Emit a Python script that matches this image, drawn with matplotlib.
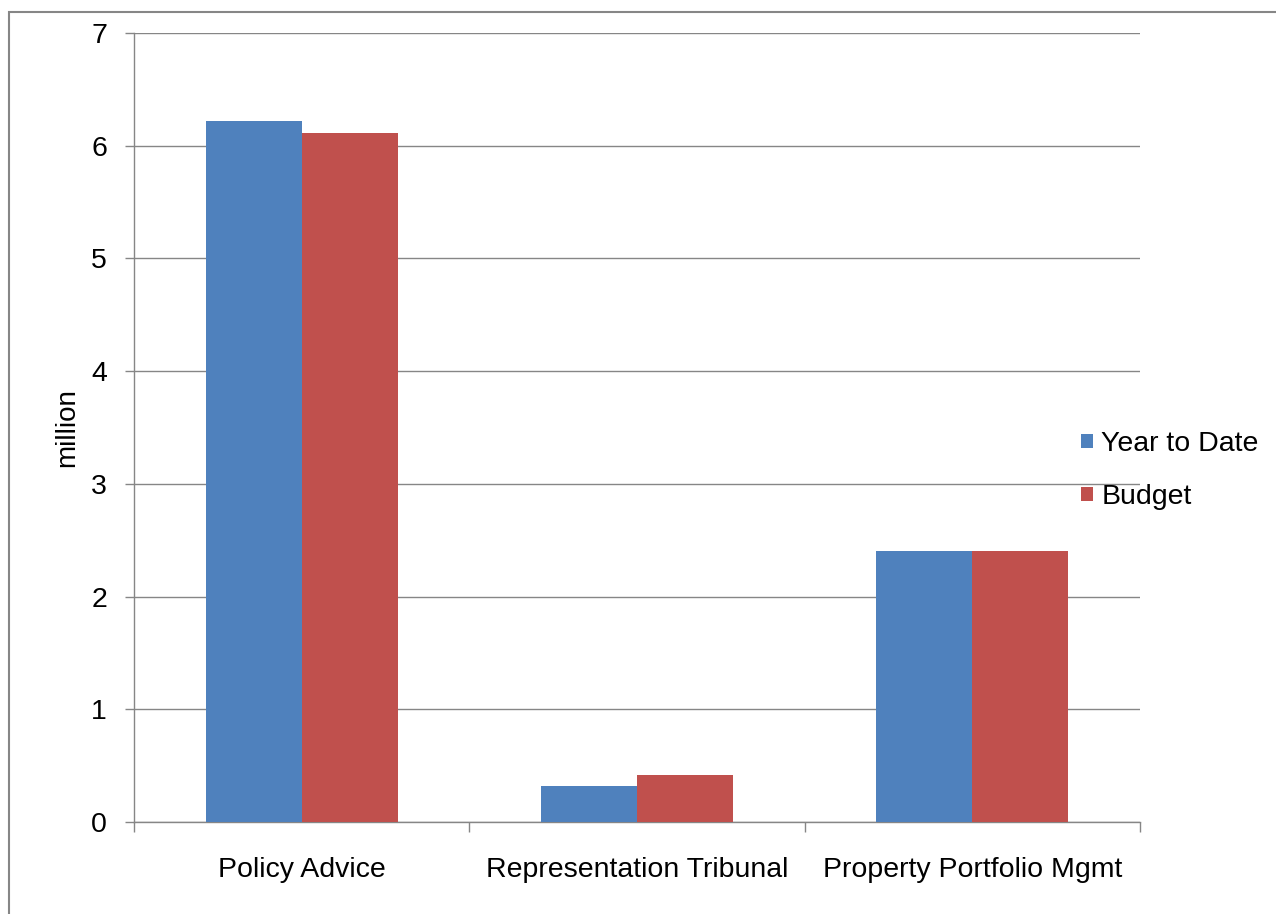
import matplotlib.pyplot as plt
import numpy as np
from matplotlib.patches import Rectangle

categories = ['Policy Advice', 'Representation Tribunal', 'Property Portfolio Mgmt']
year_to_date = [6.22, 0.32, 2.40]
budget = [6.11, 0.42, 2.40]
y_ticks = [0, 1, 2, 3, 4, 5, 6, 7]

plt.rcParams['font.family'] = ['Liberation Sans', 'DejaVu Sans']

BLUE = '#4F81BD'
RED = '#C0504D'
GREY = '#868686'

fig = plt.figure(figsize=(12.76, 9.14), dpi=100)
ax = fig.add_axes([0.105, 0.1007, 0.7884, 0.8632])

x = np.arange(len(categories))
w = 0.2866
ax.bar(x - w / 2, year_to_date, w, color=BLUE, label='Year to Date', zorder=3)
ax.bar(x + w / 2, budget, w, color=RED, label='Budget', zorder=3)

ax.set_xlim(-0.5, len(categories) - 0.5)
ax.set_ylim(0, 7)
ax.set_yticks(y_ticks)
ax.yaxis.grid(True, color=GREY, linewidth=1, zorder=0)

ax.set_xticks(x)
ax.set_xticklabels(categories)
ax.set_xticks(np.arange(len(categories) + 1) - 0.5, minor=True)
ax.tick_params(axis='x', which='major', length=0, pad=25, labelsize=20.5)
ax.tick_params(axis='x', which='minor', length=7, color=GREY, width=1)
ax.tick_params(axis='y', length=6.5, color=GREY, width=1, pad=13, labelsize=20.5)

for s in ['top', 'right']:
    ax.spines[s].set_visible(False)
for s in ['left', 'bottom']:
    ax.spines[s].set_color(GREY)
    ax.spines[s].set_linewidth(1)

ax.set_ylabel('million', fontsize=20, labelpad=8)

fig.legend(loc='center left', bbox_to_anchor=(0.836, 0.485), frameon=False,
           fontsize=20.5, handlelength=0.42, handleheight=0.42,
           handletextpad=0.3, labelspacing=0.95, borderpad=0)

# outer frame
fig.patches.append(Rectangle((9 / 1276, -0.01), 1.1, (914 - 12) / 914 + 0.01,
                             transform=fig.transFigure, fill=False,
                             edgecolor=GREY, linewidth=1.5))

fig.savefig('out.png', dpi=100)
